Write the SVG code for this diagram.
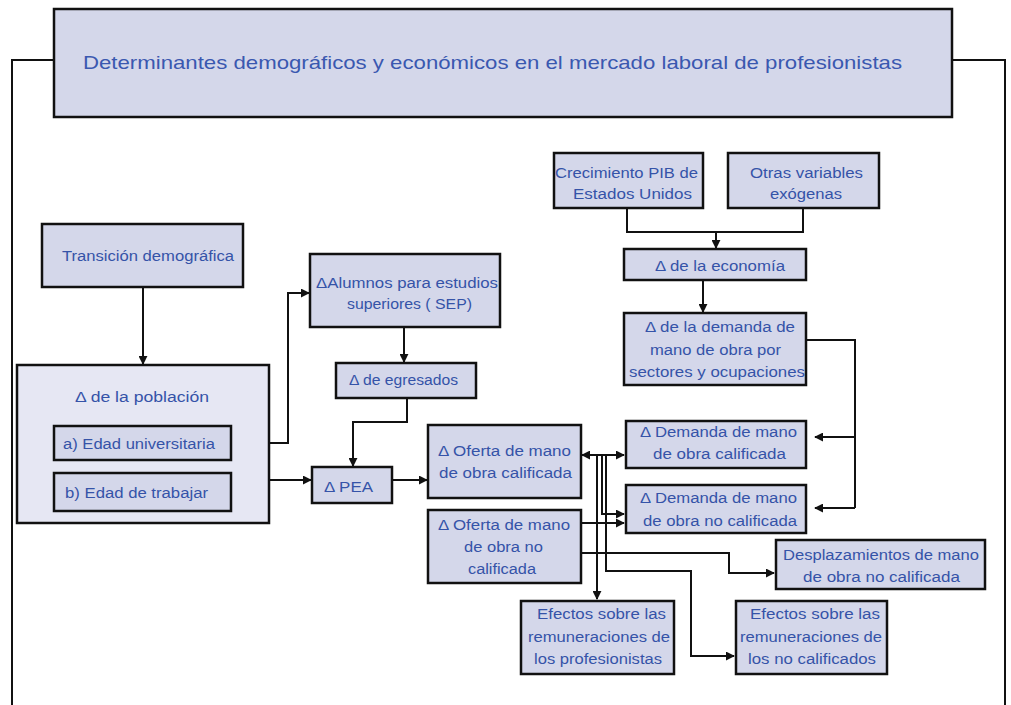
<svg xmlns="http://www.w3.org/2000/svg" width="1011" height="705" viewBox="0 0 1011 705">
<style>
  .box { fill: #d4d7ea; stroke: #111; stroke-width: 2.5; }
  .outer { fill: #e6e7f3; stroke: #111; stroke-width: 2.5; }
  .t { font-family: "Liberation Sans", Arial, sans-serif; font-size: 14px; fill: #3553a8; text-anchor: middle; }
  .title { font-family: "Liberation Sans", Arial, sans-serif; font-size: 19px; fill: #3a58b0; text-anchor: middle; }
  .c { fill: none; stroke: #111; stroke-width: 2; }
  .a { marker-end: url(#arr); }
  .b { marker-start: url(#arr); marker-end: url(#arr); }
</style>
<defs>
  <marker id="arr" viewBox="0 0 10 10" refX="9" refY="5" markerWidth="9" markerHeight="9" markerUnits="userSpaceOnUse" orient="auto-start-reverse">
    <path d="M0,0 L10,5 L0,10 z" fill="#111"/>
  </marker>
</defs>
<rect width="1011" height="705" fill="#ffffff"/>

<g id="connectors">
  <polyline class="c" points="54,60 12,60 12,705"/>
  <polyline class="c" points="952,60 1005,60 1005,705"/>
  <polyline class="c a" points="143,287 143,364"/>
  <polyline class="c a" points="231,443 288,443 288,293 309,293"/>
  <polyline class="c a" points="269,480 311,480"/>
  <polyline class="c a" points="392,480 427,480"/>
  <polyline class="c a" points="404,327 404,362"/>
  <polyline class="c a" points="407,398 407,422 353,422 353,466"/>
  <polyline class="c" points="627,208 627,232 803,232 803,208"/>
  <polyline class="c a" points="716,232 716,248"/>
  <polyline class="c a" points="703,280 703,312"/>
  <polyline class="c" points="806,340 855,340 855,508"/>
  <polyline class="c a" points="855,437 815,437"/>
  <polyline class="c a" points="855,508 815,508"/>
  <polyline class="c b" points="582,455 624,455"/>
  <polyline class="c a" points="597,455 597,599"/>
  <polyline class="c a" points="602,455 602,514 624,514"/>
  <polyline class="c a" points="581,523 624,523"/>
  <polyline class="c a" points="581,553 729,553 729,573 774,573"/>
  <polyline class="c a" points="606,455 606,571 691,571 691,656 734,656"/>
</g>

<g id="title">
  <rect class="box" x="54" y="9" width="898" height="108"/>
  <text class="title" x="492.5" y="68.5" textLength="819" lengthAdjust="spacingAndGlyphs">Determinantes demográficos y económicos en el mercado laboral de profesionistas</text>
</g>

<g id="transicion">
  <rect class="box" x="42" y="224" width="201" height="63"/>
  <text class="t" x="148" y="261" textLength="172" lengthAdjust="spacingAndGlyphs">Transición demográfica</text>
</g>

<g id="alumnos">
  <rect class="box" x="310" y="254" width="190" height="73"/>
  <text class="t" x="407" y="288" textLength="182" lengthAdjust="spacingAndGlyphs">ΔAlumnos para estudios</text>
  <text class="t" x="409.5" y="309" textLength="125" lengthAdjust="spacingAndGlyphs">superiores ( SEP)</text>
</g>

<g id="poblacion">
  <rect class="outer" x="17" y="365" width="252" height="158"/>
  <text class="t" x="142" y="402" textLength="134" lengthAdjust="spacingAndGlyphs">Δ  de la población</text>
</g>

<g id="edad-universitaria">
  <rect class="box" x="54" y="426" width="177" height="34"/>
  <text class="t" x="139" y="449" textLength="152" lengthAdjust="spacingAndGlyphs">a) Edad universitaria</text>
</g>

<g id="edad-trabajar">
  <rect class="box" x="54" y="473" width="177" height="38"/>
  <text class="t" x="136.5" y="498" textLength="143" lengthAdjust="spacingAndGlyphs">b) Edad de trabajar</text>
</g>

<g id="egresados">
  <rect class="box" x="336" y="363" width="140" height="35"/>
  <text class="t" x="403.5" y="385" textLength="109" lengthAdjust="spacingAndGlyphs">Δ de egresados</text>
</g>

<g id="pea">
  <rect class="box" x="312" y="467" width="80" height="36"/>
  <text class="t" x="348.5" y="492" textLength="49" lengthAdjust="spacingAndGlyphs">Δ  PEA</text>
</g>

<g id="oferta-calificada">
  <rect class="box" x="428" y="425" width="153" height="73"/>
  <text class="t" x="504.5" y="456" textLength="133" lengthAdjust="spacingAndGlyphs">Δ Oferta de mano</text>
  <text class="t" x="505.5" y="478" textLength="133" lengthAdjust="spacingAndGlyphs">de obra calificada</text>
</g>

<g id="oferta-no-calificada">
  <rect class="box" x="428" y="510" width="153" height="73"/>
  <text class="t" x="504" y="530" textLength="132" lengthAdjust="spacingAndGlyphs">Δ Oferta de mano</text>
  <text class="t" x="503.5" y="552" textLength="79" lengthAdjust="spacingAndGlyphs">de obra no</text>
  <text class="t" x="502" y="574" textLength="68" lengthAdjust="spacingAndGlyphs">calificada</text>
</g>

<g id="pib">
  <rect class="box" x="554" y="153" width="149" height="55"/>
  <text class="t" x="626.5" y="178" textLength="143" lengthAdjust="spacingAndGlyphs">Crecimiento PIB de</text>
  <text class="t" x="632.5" y="199" textLength="119" lengthAdjust="spacingAndGlyphs">Estados Unidos</text>
</g>

<g id="otras">
  <rect class="box" x="728" y="153" width="151" height="55"/>
  <text class="t" x="806.5" y="178" textLength="113" lengthAdjust="spacingAndGlyphs">Otras variables</text>
  <text class="t" x="806" y="199" textLength="72" lengthAdjust="spacingAndGlyphs">exógenas</text>
</g>

<g id="economia">
  <rect class="box" x="624" y="249" width="182" height="31"/>
  <text class="t" x="720" y="271" textLength="130" lengthAdjust="spacingAndGlyphs">Δ de la economía</text>
</g>

<g id="demanda-sectores">
  <rect class="box" x="624" y="313" width="182" height="72"/>
  <text class="t" x="720" y="332" textLength="150" lengthAdjust="spacingAndGlyphs">Δ de la demanda de</text>
  <text class="t" x="715.5" y="355" textLength="131" lengthAdjust="spacingAndGlyphs">mano de obra por</text>
  <text class="t" x="717" y="377" textLength="176" lengthAdjust="spacingAndGlyphs">sectores y ocupaciones</text>
</g>

<g id="demanda-calificada">
  <rect class="box" x="626" y="421" width="180" height="47"/>
  <text class="t" x="718.5" y="437" textLength="157" lengthAdjust="spacingAndGlyphs">Δ Demanda de mano</text>
  <text class="t" x="719.5" y="459" textLength="133" lengthAdjust="spacingAndGlyphs">de obra calificada</text>
</g>

<g id="demanda-no-calificada">
  <rect class="box" x="626" y="485" width="180" height="48"/>
  <text class="t" x="718.5" y="503" textLength="157" lengthAdjust="spacingAndGlyphs">Δ Demanda de mano</text>
  <text class="t" x="720" y="526" textLength="154" lengthAdjust="spacingAndGlyphs">de obra no calificada</text>
</g>

<g id="desplazamientos">
  <rect class="box" x="776" y="540" width="209" height="49"/>
  <text class="t" x="881" y="560" textLength="196" lengthAdjust="spacingAndGlyphs">Desplazamientos de mano</text>
  <text class="t" x="881.5" y="582" textLength="157" lengthAdjust="spacingAndGlyphs">de obra no calificada</text>
</g>

<g id="efectos-profesionistas">
  <rect class="box" x="521" y="601" width="153" height="73"/>
  <text class="t" x="601.5" y="619" textLength="129" lengthAdjust="spacingAndGlyphs">Efectos sobre las</text>
  <text class="t" x="599" y="642" textLength="142" lengthAdjust="spacingAndGlyphs">remuneraciones de</text>
  <text class="t" x="598" y="664" textLength="128" lengthAdjust="spacingAndGlyphs">los profesionistas</text>
</g>

<g id="efectos-no-calificados">
  <rect class="box" x="736" y="601" width="151" height="73"/>
  <text class="t" x="815" y="619" textLength="130" lengthAdjust="spacingAndGlyphs">Efectos sobre las</text>
  <text class="t" x="811" y="642" textLength="142" lengthAdjust="spacingAndGlyphs">remuneraciones de</text>
  <text class="t" x="812" y="664" textLength="128" lengthAdjust="spacingAndGlyphs">los no calificados</text>
</g>
</svg>
